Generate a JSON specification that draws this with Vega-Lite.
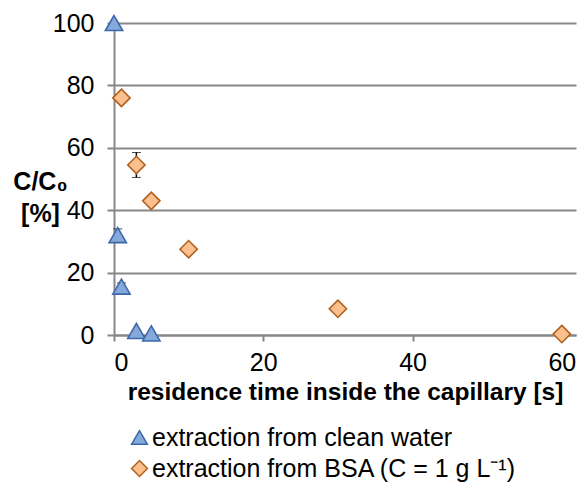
{
  "$schema": "https://vega.github.io/schema/vega-lite/v6.json",
  "width": 462,
  "height": 312,
  "autosize": {"type": "none"},
  "padding": {"left": 114, "top": 23, "right": 1, "bottom": 149},
  "background": "white",
  "config": {
    "view": {"stroke": null},
    "font": "Liberation Sans",
    "legend": {
      "labelFont": "Liberation Sans",
      "labelFontSize": 25,
      "labelColor": "black",
      "labelLimit": 500,
      "padding": 0,
      "rowPadding": 5,
      "symbolSize": 250,
      "symbolStrokeWidth": 1.5,
      "labelOffset": 0
    }
  },
  "datasets": {
    "points": [
      {"series": "extraction from clean water", "t": 0, "c": 100, "lo": null, "hi": null},
      {"series": "extraction from clean water", "t": 0.5, "c": 32, "lo": 30, "hi": 34},
      {"series": "extraction from clean water", "t": 1, "c": 15.5, "lo": 14.3, "hi": 16.7},
      {"series": "extraction from clean water", "t": 3, "c": 1.3, "lo": null, "hi": null},
      {"series": "extraction from clean water", "t": 5, "c": 0.5, "lo": null, "hi": null},
      {"series": "extraction from BSA (C = 1 g L⁻¹)", "t": 1, "c": 76, "lo": null, "hi": null},
      {"series": "extraction from BSA (C = 1 g L⁻¹)", "t": 3, "c": 54.5, "lo": 50.5, "hi": 58.5},
      {"series": "extraction from BSA (C = 1 g L⁻¹)", "t": 5, "c": 43, "lo": null, "hi": null},
      {"series": "extraction from BSA (C = 1 g L⁻¹)", "t": 10, "c": 27.5, "lo": null, "hi": null},
      {"series": "extraction from BSA (C = 1 g L⁻¹)", "t": 30, "c": 8.4, "lo": null, "hi": null},
      {"series": "extraction from BSA (C = 1 g L⁻¹)", "t": 60, "c": 0.3, "lo": null, "hi": null}
    ]
  },
  "data": {"name": "points"},
  "layer": [
    {
      "transform": [{"filter": "isValid(datum.lo)"}],
      "mark": {
        "type": "errorbar",
        "ticks": {"size": 9, "color": "black", "strokeWidth": 1.5},
        "rule": {"color": "black", "strokeWidth": 1.5}
      },
      "encoding": {
        "x": {
          "field": "t", "type": "quantitative",
          "scale": {"domain": [0, 61.9], "nice": false, "zero": false},
          "axis": {
            "values": [0, 20, 40, 60], "grid": false,
            "domainColor": "#878787", "domainWidth": 2,
            "tickColor": "#878787", "tickWidth": 2, "tickSize": 6,
            "labelFont": "Liberation Sans", "labelFontSize": 25, "labelColor": "black",
            "labelBaseline": "alphabetic", "labelPadding": 29,
            "title": "residence time inside the capillary [s]",
            "titleFont": "Liberation Sans", "titleFontSize": 24.5, "titleFontWeight": "bold", "titleColor": "black",
            "titleBaseline": "alphabetic", "titleY": 64
          }
        },
        "y": {
          "field": "lo", "type": "quantitative",
          "scale": {"domain": [0, 100], "nice": false},
          "axis": {
            "values": [0, 20, 40, 60, 80, 100], "grid": true,
            "gridColor": "#878787", "gridWidth": 2,
            "domainColor": "#878787", "domainWidth": 2,
            "tickColor": "#878787", "tickWidth": 2, "tickSize": 7,
            "labelFont": "Liberation Sans", "labelFontSize": 25, "labelColor": "black", "labelPadding": 13,
            "title": ["C/C₀", "[%]"],
            "titleFont": "Liberation Sans", "titleFontSize": 25, "titleFontWeight": "bold", "titleColor": "black",
            "titleAngle": 0, "titleAlign": "center", "titleBaseline": "top", "titleLineHeight": 32,
            "titleX": -74, "titleY": 146
          }
        },
        "y2": {"field": "hi"}
      }
    },
    {
      "mark": {"type": "point", "filled": true, "size": 300, "strokeWidth": 1.6, "opacity": 1},
      "encoding": {
        "x": {
          "field": "t", "type": "quantitative",
          "scale": {"domain": [0, 61.9], "nice": false, "zero": false},
          "axis": {
            "values": [0, 20, 40, 60], "grid": false,
            "domainColor": "#878787", "domainWidth": 2,
            "tickColor": "#878787", "tickWidth": 2, "tickSize": 6,
            "labelFont": "Liberation Sans", "labelFontSize": 25, "labelColor": "black",
            "labelBaseline": "alphabetic", "labelPadding": 29,
            "title": "residence time inside the capillary [s]",
            "titleFont": "Liberation Sans", "titleFontSize": 24.5, "titleFontWeight": "bold", "titleColor": "black",
            "titleBaseline": "alphabetic", "titleY": 64
          }
        },
        "y": {
          "field": "c", "type": "quantitative",
          "scale": {"domain": [0, 100], "nice": false},
          "axis": {
            "values": [0, 20, 40, 60, 80, 100], "grid": true,
            "gridColor": "#878787", "gridWidth": 2,
            "domainColor": "#878787", "domainWidth": 2,
            "tickColor": "#878787", "tickWidth": 2, "tickSize": 7,
            "labelFont": "Liberation Sans", "labelFontSize": 25, "labelColor": "black", "labelPadding": 13,
            "title": ["C/C₀", "[%]"],
            "titleFont": "Liberation Sans", "titleFontSize": 25, "titleFontWeight": "bold", "titleColor": "black",
            "titleAngle": 0, "titleAlign": "center", "titleBaseline": "top", "titleLineHeight": 32,
            "titleX": -74, "titleY": 146
          }
        },
        "shape": {
          "field": "series", "type": "nominal",
          "scale": {"domain": ["extraction from clean water", "extraction from BSA (C = 1 g L⁻¹)"], "range": ["triangle-up", "diamond"]},
          "legend": {"title": null, "orient": "none", "legendX": 13, "legendY": 402, "direction": "vertical"}
        },
        "fill": {
          "field": "series", "type": "nominal",
          "scale": {"domain": ["extraction from clean water", "extraction from BSA (C = 1 g L⁻¹)"], "range": ["#86A9DC", "#FBC08E"]},
          "legend": {"title": null, "orient": "none", "legendX": 13, "legendY": 402, "direction": "vertical"}
        },
        "stroke": {
          "field": "series", "type": "nominal",
          "scale": {"domain": ["extraction from clean water", "extraction from BSA (C = 1 g L⁻¹)"], "range": ["#3D68AA", "#B0601F"]},
          "legend": {"title": null, "orient": "none", "legendX": 13, "legendY": 402, "direction": "vertical"}
        }
      }
    }
  ]
}
